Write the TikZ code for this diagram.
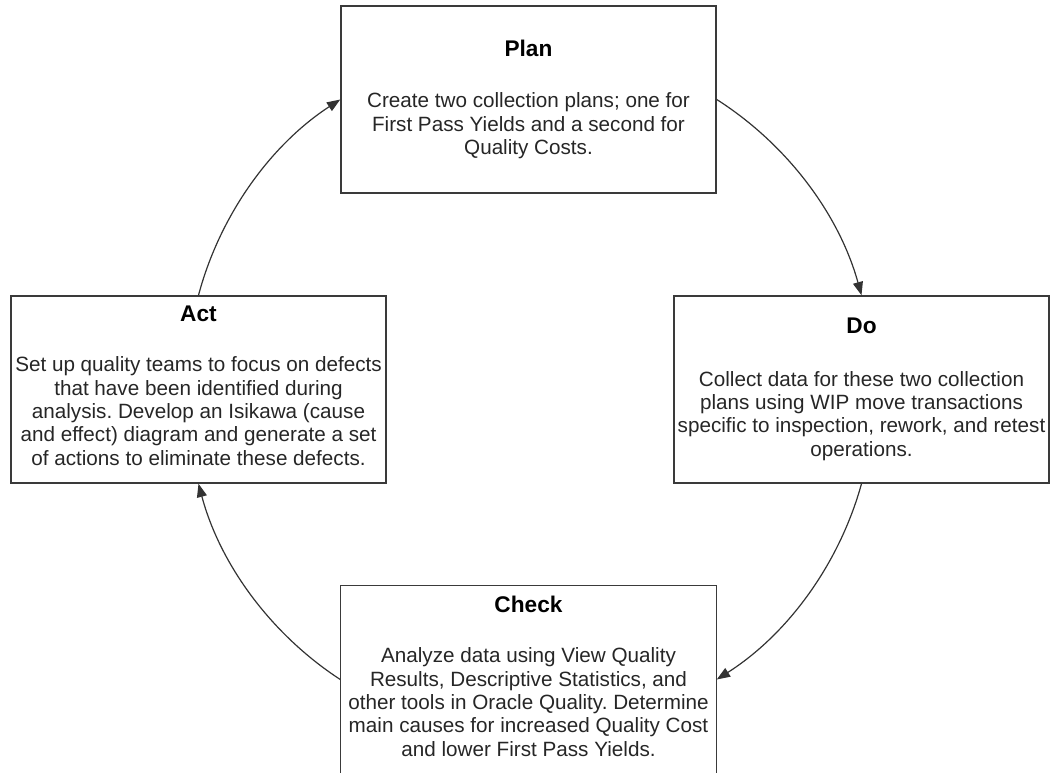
\documentclass[tikz,border=0pt]{standalone}
\usepackage{fontspec}
\setmainfont{Liberation Sans}
\usetikzlibrary{arrows.meta}
\definecolor{boxgray}{HTML}{3A3A3A}
\definecolor{textgray}{HTML}{262626}
\definecolor{linegray}{HTML}{333333}
\frenchspacing
\begin{document}
\begin{tikzpicture}[x=0.75pt,y=-0.75pt,
  phasebox/.style={draw=boxgray, line width=1.1pt, minimum width=281.25pt,
    minimum height=140.25pt, inner sep=0pt},
  boxline/.style={draw=boxgray, line width=1.1pt},
  phasetitle/.style={anchor=base, inner sep=0pt, text=black,
    font=\fontsize{17}{20}\selectfont\bfseries},
  % base anchor of a multi-line node sits on its last line
  phasetext/.style={anchor=base, inner sep=0pt, align=center, text=textgray,
    font=\fontsize{15.5}{17.5}\selectfont},
  cyclearrow/.style={draw=linegray, line width=0.9pt,
    -{Triangle[length=10pt,width=7.5pt]}, bend left=21, looseness=0.88}]

\useasboundingbox (0,0) rectangle (1060,773);

% Plan
\node[phasebox] (plan) at (528.5,99.5) {};
\node[phasetitle] (plantitle) at (528.5,56.7) {Plan};
\node[phasetext] (plantext) at (528.5,154.5)
  {Create two collection plans; one for\\First Pass Yields and a second for\\Quality Costs.};

% Do
\node[phasebox] (do) at (861.5,389.5) {};
\node[phasetitle] (dotitle) at (861.5,333.3) {Do};
\node[phasetext] (dotext) at (861.5,456)
  {Collect data for these two collection\\plans using WIP move transactions\\specific to inspection, rework, and retest\\operations.};

% Check (runs past the lower edge, so only three sides show)
\node[phasebox, draw=none] (check) at (528.5,679.5) {};
\draw[boxline] (check.south west) -- (check.north west) -- (check.north east) -- (check.south east);
\node[phasetitle] (checktitle) at (528.5,612) {Check};
\node[phasetext] (checktext) at (528.5,756)
  {Analyze data using View Quality\\Results, Descriptive Statistics, and\\other tools in Oracle Quality. Determine\\main causes for increased Quality Cost\\and lower First Pass Yields.};

% Act
\node[phasebox] (act) at (198.5,389.5) {};
\node[phasetitle] (acttitle) at (198.5,321.7) {Act};
\node[phasetext] (acttext) at (198.5,465)
  {Set up quality teams to focus on defects\\that have been identified during\\analysis. Develop an Isikawa (cause\\and effect) diagram and generate a set\\of actions to eliminate these defects.};

% PDCA cycle
\draw[cyclearrow] (plan.east) to (do.north);
\draw[cyclearrow] (do.south) to (check.east);
\draw[cyclearrow] (check.west) to (act.south);
\draw[cyclearrow] (act.north) to (plan.west);

\end{tikzpicture}
\end{document}
